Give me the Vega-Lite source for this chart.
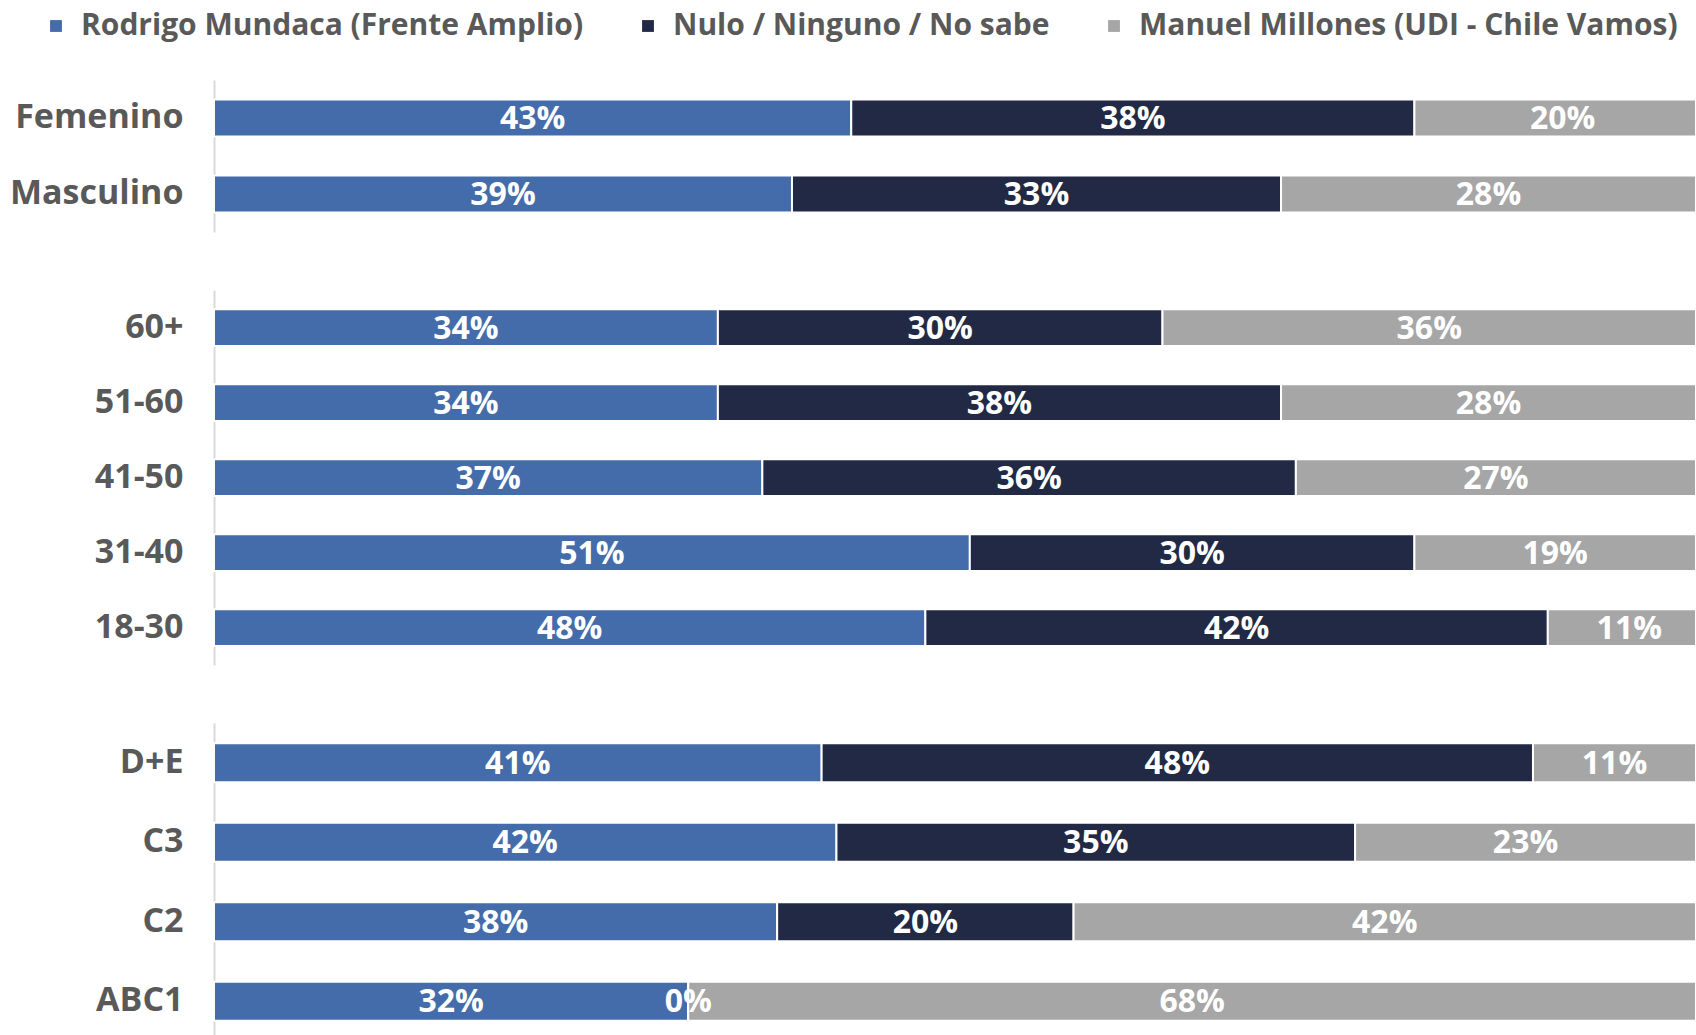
{
  "$schema": "https://vega.github.io/schema/vega-lite/v6.json",
  "background": "white",
  "padding": {"left": 0, "top": 11, "right": 0, "bottom": 0},
  "config": {
    "view": {"stroke": null},
    "font": "Open Sans",
    "concat": {"spacing": 58},
    "axisY": {
      "domainColor": "#d9d9d9",
      "domainWidth": 2,
      "ticks": false,
      "labelFontSize": 34,
      "labelFontWeight": "bold",
      "labelColor": "#595959",
      "labelPadding": 31,
      "labelLimit": 400,
      "minExtent": 214,
      "maxExtent": 214,
      "title": null,
      "grid": false
    }
  },
  "data": {
    "values": [
      {"group": "sexo", "cat": "Femenino", "k": 1, "cand": "Rodrigo Mundaca (Frente Amplio)", "value": 0.43},
      {"group": "sexo", "cat": "Femenino", "k": 2, "cand": "Nulo / Ninguno / No sabe", "value": 0.38},
      {"group": "sexo", "cat": "Femenino", "k": 3, "cand": "Manuel Millones (UDI - Chile Vamos)", "value": 0.20},
      {"group": "sexo", "cat": "Masculino", "k": 1, "cand": "Rodrigo Mundaca (Frente Amplio)", "value": 0.39},
      {"group": "sexo", "cat": "Masculino", "k": 2, "cand": "Nulo / Ninguno / No sabe", "value": 0.33},
      {"group": "sexo", "cat": "Masculino", "k": 3, "cand": "Manuel Millones (UDI - Chile Vamos)", "value": 0.28},
      {"group": "edad", "cat": "60+", "k": 1, "cand": "Rodrigo Mundaca (Frente Amplio)", "value": 0.34},
      {"group": "edad", "cat": "60+", "k": 2, "cand": "Nulo / Ninguno / No sabe", "value": 0.30},
      {"group": "edad", "cat": "60+", "k": 3, "cand": "Manuel Millones (UDI - Chile Vamos)", "value": 0.36},
      {"group": "edad", "cat": "51-60", "k": 1, "cand": "Rodrigo Mundaca (Frente Amplio)", "value": 0.34},
      {"group": "edad", "cat": "51-60", "k": 2, "cand": "Nulo / Ninguno / No sabe", "value": 0.38},
      {"group": "edad", "cat": "51-60", "k": 3, "cand": "Manuel Millones (UDI - Chile Vamos)", "value": 0.28},
      {"group": "edad", "cat": "41-50", "k": 1, "cand": "Rodrigo Mundaca (Frente Amplio)", "value": 0.37},
      {"group": "edad", "cat": "41-50", "k": 2, "cand": "Nulo / Ninguno / No sabe", "value": 0.36},
      {"group": "edad", "cat": "41-50", "k": 3, "cand": "Manuel Millones (UDI - Chile Vamos)", "value": 0.27},
      {"group": "edad", "cat": "31-40", "k": 1, "cand": "Rodrigo Mundaca (Frente Amplio)", "value": 0.51},
      {"group": "edad", "cat": "31-40", "k": 2, "cand": "Nulo / Ninguno / No sabe", "value": 0.30},
      {"group": "edad", "cat": "31-40", "k": 3, "cand": "Manuel Millones (UDI - Chile Vamos)", "value": 0.19},
      {"group": "edad", "cat": "18-30", "k": 1, "cand": "Rodrigo Mundaca (Frente Amplio)", "value": 0.48},
      {"group": "edad", "cat": "18-30", "k": 2, "cand": "Nulo / Ninguno / No sabe", "value": 0.42},
      {"group": "edad", "cat": "18-30", "k": 3, "cand": "Manuel Millones (UDI - Chile Vamos)", "value": 0.11},
      {"group": "gse", "cat": "D+E", "k": 1, "cand": "Rodrigo Mundaca (Frente Amplio)", "value": 0.41},
      {"group": "gse", "cat": "D+E", "k": 2, "cand": "Nulo / Ninguno / No sabe", "value": 0.48},
      {"group": "gse", "cat": "D+E", "k": 3, "cand": "Manuel Millones (UDI - Chile Vamos)", "value": 0.11},
      {"group": "gse", "cat": "C3", "k": 1, "cand": "Rodrigo Mundaca (Frente Amplio)", "value": 0.42},
      {"group": "gse", "cat": "C3", "k": 2, "cand": "Nulo / Ninguno / No sabe", "value": 0.35},
      {"group": "gse", "cat": "C3", "k": 3, "cand": "Manuel Millones (UDI - Chile Vamos)", "value": 0.23},
      {"group": "gse", "cat": "C2", "k": 1, "cand": "Rodrigo Mundaca (Frente Amplio)", "value": 0.38},
      {"group": "gse", "cat": "C2", "k": 2, "cand": "Nulo / Ninguno / No sabe", "value": 0.20},
      {"group": "gse", "cat": "C2", "k": 3, "cand": "Manuel Millones (UDI - Chile Vamos)", "value": 0.42},
      {"group": "gse", "cat": "ABC1", "k": 1, "cand": "Rodrigo Mundaca (Frente Amplio)", "value": 0.32},
      {"group": "gse", "cat": "ABC1", "k": 2, "cand": "Nulo / Ninguno / No sabe", "value": 0.0},
      {"group": "gse", "cat": "ABC1", "k": 3, "cand": "Manuel Millones (UDI - Chile Vamos)", "value": 0.68}
    ]
  },
  "resolve": {"scale": {"color": "shared"}},
  "vconcat": [
    {
      "width": 1482,
      "height": 152,
      "transform": [
        {"filter": {"field": "group", "equal": "sexo"}},
        {"stack": "value", "groupby": ["cat"], "sort": [{"field": "k", "order": "ascending"}], "as": ["x0", "x1"]}
      ],
      "encoding": {
        "y": {"field": "cat", "type": "nominal", "sort": ["Femenino", "Masculino"], "scale": {"paddingInner": 0.51, "paddingOuter": 0.255}}
      },
      "layer": [
        {
          "mark": {"type": "bar", "stroke": "white", "strokeWidth": 2},
          "encoding": {
            "x": {"field": "x0", "type": "quantitative", "scale": {"domain": [0, 1], "clamp": true}, "axis": null},
            "x2": {"field": "x1"},
            "color": {
              "field": "cand", "type": "nominal",
              "scale": {"domain": ["Rodrigo Mundaca (Frente Amplio)", "Nulo / Ninguno / No sabe", "Manuel Millones (UDI - Chile Vamos)"], "range": ["#446CAA", "#212944", "#A6A6A6"]},
              "legend": {
                "orient": "none", "direction": "horizontal", "legendX": -173, "legendY": -69,
                "title": null, "symbolType": "square", "symbolSize": 140, "symbolStrokeWidth": 0,
                "labelFontSize": 30, "labelFontWeight": "bold", "labelColor": "#595959",
                "labelLimit": 700, "labelOffset": 10, "columnPadding": 49
              }
            }
          }
        },
        {
          "transform": [
            {"fold": ["x0", "x1"], "as": ["edge", "pos"]},
            {"aggregate": [{"op": "mean", "field": "pos", "as": "mid"}], "groupby": ["cat", "k", "value"]}
          ],
          "mark": {"type": "text", "color": "white", "fontSize": 32, "fontWeight": "bold", "dy": 1},
          "encoding": {
            "x": {"field": "mid", "type": "quantitative"},
            "text": {"field": "value", "type": "quantitative", "format": ".0%"}
          }
        }
      ]
    },
    {
      "width": 1482,
      "height": 375,
      "transform": [
        {"filter": {"field": "group", "equal": "edad"}},
        {"stack": "value", "groupby": ["cat"], "sort": [{"field": "k", "order": "ascending"}], "as": ["x0", "x1"]}
      ],
      "encoding": {
        "y": {"field": "cat", "type": "nominal", "sort": ["60+", "51-60", "41-50", "31-40", "18-30"], "scale": {"paddingInner": 0.51, "paddingOuter": 0.255}}
      },
      "layer": [
        {
          "mark": {"type": "bar", "stroke": "white", "strokeWidth": 2},
          "encoding": {
            "x": {"field": "x0", "type": "quantitative", "scale": {"domain": [0, 1], "clamp": true}, "axis": null},
            "x2": {"field": "x1"},
            "color": {"field": "cand", "type": "nominal"}
          }
        },
        {
          "transform": [
            {"fold": ["x0", "x1"], "as": ["edge", "pos"]},
            {"aggregate": [{"op": "mean", "field": "pos", "as": "mid"}], "groupby": ["cat", "k", "value"]}
          ],
          "mark": {"type": "text", "color": "white", "fontSize": 32, "fontWeight": "bold", "dy": 1},
          "encoding": {
            "x": {"field": "mid", "type": "quantitative"},
            "text": {"field": "value", "type": "quantitative", "format": ".0%"}
          }
        }
      ]
    },
    {
      "width": 1482,
      "height": 318,
      "transform": [
        {"filter": {"field": "group", "equal": "gse"}},
        {"stack": "value", "groupby": ["cat"], "sort": [{"field": "k", "order": "ascending"}], "as": ["x0", "x1"]}
      ],
      "encoding": {
        "y": {"field": "cat", "type": "nominal", "sort": ["D+E", "C3", "C2", "ABC1"], "scale": {"paddingInner": 0.51, "paddingOuter": 0.255}}
      },
      "layer": [
        {
          "mark": {"type": "bar", "stroke": "white", "strokeWidth": 2},
          "encoding": {
            "x": {"field": "x0", "type": "quantitative", "scale": {"domain": [0, 1], "clamp": true}, "axis": null},
            "x2": {"field": "x1"},
            "color": {"field": "cand", "type": "nominal"}
          }
        },
        {
          "transform": [
            {"fold": ["x0", "x1"], "as": ["edge", "pos"]},
            {"aggregate": [{"op": "mean", "field": "pos", "as": "mid"}], "groupby": ["cat", "k", "value"]}
          ],
          "mark": {"type": "text", "color": "white", "fontSize": 32, "fontWeight": "bold", "dy": 1},
          "encoding": {
            "x": {"field": "mid", "type": "quantitative"},
            "text": {"field": "value", "type": "quantitative", "format": ".0%"}
          }
        }
      ]
    }
  ]
}
